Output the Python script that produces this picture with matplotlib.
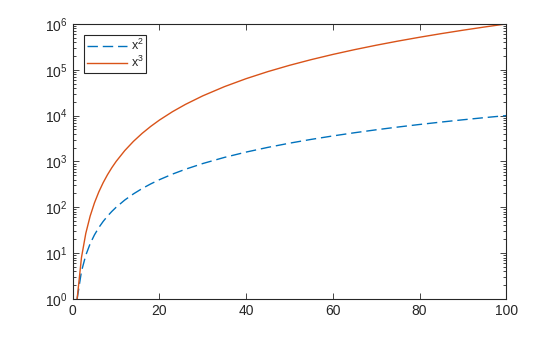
import matplotlib.pyplot as plt
from matplotlib.ticker import FixedLocator, NullFormatter

# значения
x = [1, 2, 3, 4, 5, 6, 7, 8, 9, 10, 12, 14, 16, 18, 20, 23, 26, 30, 35,
     40, 45, 50, 55, 60, 65, 70, 75, 80, 85, 90, 95, 100]
y_sq = [1, 4, 9, 16, 25, 36, 49, 64, 81, 100, 144, 196, 256, 324, 400, 529,
        676, 900, 1225, 1600, 2025, 2500, 3025, 3600, 4225, 4900, 5625, 6400,
        7225, 8100, 9025, 10000]
y_cu = [1, 8, 27, 64, 125, 216, 343, 512, 729, 1000, 1728, 2744, 4096, 5832,
        8000, 12167, 17576, 27000, 42875, 64000, 91125, 125000, 166375,
        216000, 274625, 343000, 421875, 512000, 614125, 729000, 857375,
        1000000]
labels = ['x$^2$', 'x$^3$']
x_ticks = [0, 20, 40, 60, 80, 100]
y_ticks = [1, 10, 100, 1e3, 1e4, 1e5, 1e6]

plt.rcParams['font.family'] = ['Liberation Sans', 'DejaVu Sans']
plt.rcParams['font.size'] = 10
plt.rcParams['mathtext.fontset'] = 'custom'
plt.rcParams['mathtext.rm'] = 'Liberation Sans'

fig = plt.figure(figsize=(5.6, 3.37), dpi=100)
ax = fig.add_axes([0.130, 0.113, 0.774, 0.816])

ax.semilogy(x, y_sq, color='#0072BD', lw=1, dashes=(7.5, 3.5), label=labels[0])
ax.semilogy(x, y_cu, '-', color='#D95319', lw=1, label=labels[1])

ax.set_xlim(0, 100)
ax.set_ylim(1, 1e6)
ax.set_xticks(x_ticks)
ax.set_yticks(y_ticks)
minors = [m * 10 ** k for k in range(6) for m in range(2, 10)]
ax.yaxis.set_minor_locator(FixedLocator(minors))
ax.yaxis.set_minor_formatter(NullFormatter())

# оси в стиле matlab
axcol = '#262626'
for s in ax.spines.values():
    s.set_color(axcol)
    s.set_linewidth(0.8)
ax.tick_params(which='both', direction='in', top=True, right=True,
               colors=axcol, labelcolor=axcol, width=0.6)
ax.tick_params(which='major', length=4, labelsize=10)
ax.tick_params(which='minor', length=2)

leg = ax.legend(loc='upper left', bbox_to_anchor=(0.025, 0.96),
                borderaxespad=0, fancybox=False, edgecolor=axcol,
                framealpha=1, handlelength=3.2, handletextpad=0.3,
                borderpad=0.25, labelspacing=0.15, fontsize=9)
leg.get_frame().set_linewidth(0.8)
for t in leg.get_texts():
    t.set_color(axcol)

fig.savefig('out.png')
